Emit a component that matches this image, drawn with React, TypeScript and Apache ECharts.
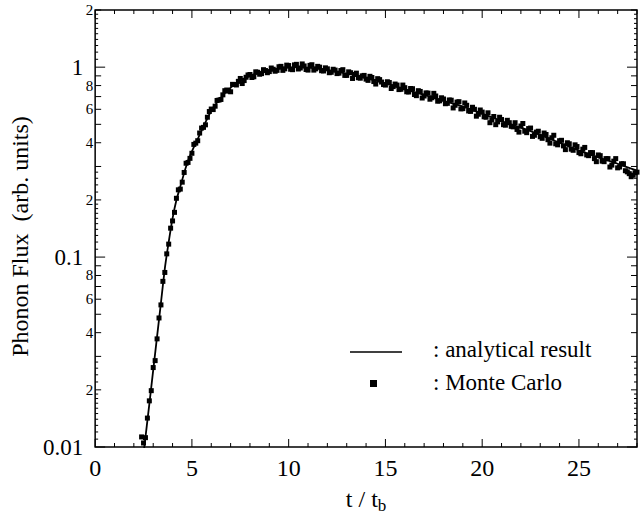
import React, { useEffect, useRef } from 'react';
import * as echarts from 'echarts';

// Analytical result (t / t_b, flux)
const analyticT = [2.53, 2.8, 3.0, 3.2, 3.4, 3.6, 3.8, 4.0, 4.2, 4.4, 4.7, 5.0, 5.35, 5.65, 6.0, 6.5, 7.0, 7.5, 8.0, 8.5, 9.0, 9.5, 10.0, 10.5, 11.0, 11.5, 12.0, 12.5, 13.0, 13.5, 14.0, 14.5, 15.0, 16.0, 17.0, 18.0, 19.0, 20.0, 21.0, 22.0, 23.0, 24.0, 25.0, 26.0, 27.0, 28.0];
const analyticFlux = [0.0098, 0.0168, 0.0254, 0.0382, 0.0575, 0.087, 0.12, 0.16, 0.2, 0.235, 0.3, 0.36, 0.43, 0.5, 0.59, 0.69, 0.78, 0.85, 0.9, 0.935, 0.96, 0.98, 0.995, 1.0, 0.995, 0.985, 0.965, 0.945, 0.925, 0.905, 0.875, 0.85, 0.82, 0.765, 0.715, 0.665, 0.62, 0.57, 0.52, 0.48, 0.44, 0.4, 0.365, 0.335, 0.31, 0.285];

// Monte Carlo points (first run of readings)
const mcT = [2.4, 2.5, 2.6, 2.7, 2.8, 2.9, 3.0, 3.1, 3.2, 3.3, 3.4, 3.5, 3.6, 3.7, 3.8, 3.9, 4.0, 4.2, 4.4, 4.6, 4.8, 5.0, 5.2, 5.4, 5.6, 5.8, 6.0, 6.2, 6.4, 6.6, 6.8, 7.0, 7.2, 7.4, 7.6, 7.8, 8.0, 8.2, 8.4, 8.6, 8.8, 9.0, 9.2, 9.4, 9.6, 9.8, 10.0, 10.2, 10.4, 10.6, 10.8, 11.0, 11.2, 11.4, 11.6, 11.8, 12.0, 12.2, 12.4, 12.6, 12.8, 13.0, 13.2, 13.4, 13.6, 13.8, 14.0, 14.2, 14.4, 14.6, 14.8, 15.0, 15.2, 15.4, 15.6, 15.8, 16.0, 16.2, 16.4, 16.6, 16.8, 17.0, 17.2, 17.4, 17.6, 17.8, 18.0, 18.2, 18.4, 18.6, 18.8, 19.0, 19.2, 19.4, 19.6, 19.8, 20.0, 20.2, 20.4, 20.6, 20.8, 21.0, 21.2, 21.4, 21.6, 21.8, 22.0, 22.2, 22.4, 22.6, 22.8, 23.0, 23.2, 23.4, 23.6, 23.8, 24.0, 24.2, 24.4, 24.6, 24.8, 25.0, 25.2, 25.4, 25.6, 25.8, 26.0, 26.2, 26.4, 26.6, 26.8, 27.0, 27.2, 27.4, 27.6, 27.8, 28.0];
const mcFlux = [0.0113, 0.0105, 0.0112, 0.0142, 0.0175, 0.0198, 0.0262, 0.0285, 0.0371, 0.0478, 0.056, 0.0745, 0.083, 0.104, 0.117, 0.142, 0.155, 0.204, 0.228, 0.279, 0.315, 0.352, 0.398, 0.45, 0.482, 0.545, 0.602, 0.623, 0.671, 0.715, 0.758, 0.742, 0.81, 0.842, 0.82, 0.885, 0.915, 0.89, 0.94, 0.925, 0.96, 0.948, 0.975, 0.962, 1.01, 0.98, 1.02, 0.97, 1.035, 0.99, 1.015, 0.965, 1.03, 0.98, 1.0, 0.955, 0.98, 0.94, 0.965, 0.93, 0.97, 0.905, 0.935, 0.915, 0.88, 0.9, 0.865, 0.895, 0.84, 0.87, 0.835, 0.805, 0.83, 0.79, 0.805, 0.765, 0.78, 0.74, 0.77, 0.708, 0.745, 0.705, 0.73, 0.69, 0.705, 0.665, 0.68, 0.645, 0.67, 0.63, 0.658, 0.605, 0.63, 0.585, 0.6, 0.565, 0.58, 0.545, 0.51, 0.55, 0.515, 0.53, 0.495, 0.51, 0.485, 0.47, 0.49, 0.46, 0.475, 0.432, 0.455, 0.43, 0.45, 0.415, 0.425, 0.395, 0.41, 0.385, 0.4, 0.37, 0.39, 0.355, 0.37, 0.345, 0.355, 0.33, 0.345, 0.32, 0.33, 0.298, 0.32, 0.295, 0.31, 0.285, 0.275, 0.27, 0.28];

// Monte Carlo points (second run of readings, in between)
const mcT2 = [4.1, 4.3, 4.5, 4.7, 4.9, 5.1, 5.3, 5.5, 5.7, 5.9, 6.1, 6.3, 6.5, 6.7, 6.9, 7.1, 7.3, 7.5, 7.7, 7.9, 8.1, 8.3, 8.5, 8.7, 8.9, 9.1, 9.3, 9.5, 9.7, 9.9, 10.1, 10.3, 10.5, 10.7, 10.9, 11.1, 11.3, 11.5, 11.7, 11.9, 12.1, 12.3, 12.5, 12.7, 12.9, 13.1, 13.3, 13.5, 13.7, 13.9, 14.1, 14.3, 14.5, 14.7, 14.9, 15.1, 15.3, 15.5, 15.7, 15.9, 16.1, 16.3, 16.5, 16.7, 16.9, 17.1, 17.3, 17.5, 17.7, 17.9, 18.1, 18.3, 18.5, 18.7, 18.9, 19.1, 19.3, 19.5, 19.7, 19.9, 20.1, 20.3, 20.5, 20.7, 20.9, 21.1, 21.3, 21.5, 21.7, 21.9, 22.1, 22.3, 22.5, 22.7, 22.9, 23.1, 23.3, 23.5, 23.7, 23.9, 24.1, 24.3, 24.5, 24.7, 24.9, 25.1, 25.3, 25.5, 25.7, 25.9, 26.1, 26.3, 26.5, 26.7, 26.9, 27.1, 27.3, 27.5, 27.7, 27.9];
const mcFlux2 = [0.172, 0.226, 0.248, 0.312, 0.331, 0.392, 0.41, 0.478, 0.497, 0.584, 0.598, 0.668, 0.676, 0.752, 0.748, 0.812, 0.806, 0.872, 0.85, 0.91, 0.882, 0.945, 0.918, 0.97, 0.935, 0.99, 0.952, 1.005, 0.962, 1.025, 0.975, 1.028, 0.978, 1.04, 0.972, 1.022, 0.965, 1.01, 0.958, 0.992, 0.935, 0.975, 0.925, 0.96, 0.905, 0.945, 0.872, 0.93, 0.875, 0.905, 0.852, 0.882, 0.815, 0.86, 0.81, 0.838, 0.772, 0.815, 0.762, 0.805, 0.742, 0.772, 0.718, 0.752, 0.688, 0.732, 0.678, 0.728, 0.662, 0.69, 0.642, 0.672, 0.61, 0.655, 0.603, 0.648, 0.588, 0.615, 0.552, 0.595, 0.548, 0.575, 0.528, 0.498, 0.545, 0.498, 0.525, 0.488, 0.51, 0.455, 0.505, 0.452, 0.478, 0.438, 0.46, 0.422, 0.442, 0.398, 0.438, 0.39, 0.412, 0.368, 0.395, 0.365, 0.382, 0.35, 0.378, 0.342, 0.355, 0.318, 0.342, 0.318, 0.33, 0.305, 0.33, 0.298, 0.31, 0.281, 0.265, 0.278];

// Axis settings / tick labels
const X_MIN = 0;
const X_MAX = 28;
const Y_MIN = 0.01;
const Y_MAX = 2;
const yDecades = [0.01, 0.1, 1];
const yMajorLabels = ['0.01', '0.1', '1'];
const yMinorMultipliers = [2, 3, 4, 5, 6, 7, 8, 9];
const yMinorLabeled = [2, 4, 6, 8];
const legendLabels = [': analytical result', ': Monte Carlo'];

const FONT = 'Liberation Serif';

type YTick = { v: number; len: number; label: string };

function buildYTicks(): YTick[] {
  const ticks: YTick[] = [];
  yDecades.forEach((d) => {
    ticks.push({ v: d, len: 10, label: '' });
    yMinorMultipliers.forEach((m) => {
      const v = +(m * d).toPrecision(6);
      if (v > Y_MAX + 1e-9) return;
      ticks.push({ v, len: 6, label: yMinorLabeled.indexOf(m) >= 0 ? String(m) : '' });
    });
    for (let k = 1; k <= 9; k++) {
      const v = +(d * (1 + k / 10)).toPrecision(6);
      if (v < Y_MAX) ticks.push({ v, len: 3, label: '' });
    }
    for (let k = 1; k <= 4; k++) {
      const v = +(d * (2 + k / 5)).toPrecision(6);
      if (v < Y_MAX) ticks.push({ v, len: 3, label: '' });
    }
  });
  return ticks;
}

type XTick = { v: number; len: number };
function buildXTicks(): XTick[] {
  const ticks: XTick[] = [];
  for (let t = X_MIN; t <= X_MAX; t++) {
    ticks.push({ v: t, len: t % 5 === 0 ? 8 : 4 });
  }
  return ticks;
}

export default function App() {
  const ref = useRef<HTMLDivElement>(null);

  useEffect(() => {
    if (!ref.current) return;
    const chart = echarts.init(ref.current, undefined, { renderer: 'svg' });
    const yTicks = buildYTicks();
    const xTicks = buildXTicks();
    const mcData = mcT.map((t, i) => [t, mcFlux[i]]).concat(mcT2.map((t, i) => [t, mcFlux2[i]]));

    const option: any = {
      animation: false,
      backgroundColor: '#fff',
      textStyle: { fontFamily: FONT, color: '#000' },
      grid: {
        left: 91,
        right: 2,
        top: 10,
        bottom: 80,
        show: true,
        borderColor: '#000',
        borderWidth: 1.5,
        backgroundColor: 'transparent',
      },
      xAxis: {
        type: 'value',
        min: X_MIN,
        max: X_MAX,
        interval: 5,
        splitLine: { show: false },
        axisLine: { show: false },
        axisTick: { show: false },
        axisLabel: {
          margin: 9,
          fontSize: 24,
          fontFamily: FONT,
          color: '#000',
          formatter: (v: number) => (Math.abs(v % 5) < 1e-9 ? String(v) : ''),
        },
        name: 't / t{b|b}',
        nameLocation: 'middle',
        nameGap: 36,
        nameTextStyle: {
          fontSize: 24,
          fontFamily: FONT,
          color: '#000',
          rich: { b: { fontSize: 17, fontFamily: FONT, color: '#000', padding: [14, 0, 0, 0] } },
        },
      },
      yAxis: {
        type: 'log',
        logBase: 10,
        min: Y_MIN,
        max: Y_MAX,
        splitLine: { show: false },
        axisLine: { show: false },
        axisTick: { show: false },
        axisLabel: {
          margin: 12,
          fontSize: 23,
          fontFamily: FONT,
          color: '#000',
          formatter: (v: number) => {
            for (let i = 0; i < yDecades.length; i++) {
              if (Math.abs(v - yDecades[i]) / yDecades[i] < 1e-6) return yMajorLabels[i];
            }
            return '';
          },
        },
        name: 'Phonon Flux  (arb. units)',
        nameLocation: 'middle',
        nameGap: 60,
        nameTextStyle: { fontSize: 24, fontFamily: FONT, color: '#000', padding: [0, 16, 0, 0] },
      },
      graphic: [
        { type: 'line', shape: { x1: 350, y1: 352, x2: 402, y2: 352 }, style: { stroke: '#000', lineWidth: 1.5 } },
        { type: 'text', x: 433, y: 349, style: { text: legendLabels[0], fontSize: 23, fontFamily: FONT, fill: '#000', verticalAlign: 'middle' } },
        { type: 'rect', shape: { x: 370, y: 380, width: 7, height: 7 }, style: { fill: '#000' } },
        { type: 'text', x: 433, y: 382, style: { text: legendLabels[1], fontSize: 23, fontFamily: FONT, fill: '#000', verticalAlign: 'middle' } },
      ],
      series: [
        {
          name: 'analytical result',
          type: 'line',
          data: analyticT.map((t, i) => [t, analyticFlux[i]]),
          showSymbol: false,
          smooth: 0.2,
          lineStyle: { color: '#000', width: 1.8 },
          clip: true,
          z: 3,
        },
        {
          name: 'Monte Carlo',
          type: 'scatter',
          data: mcData,
          symbol: 'rect',
          symbolSize: 5,
          itemStyle: { color: '#000', opacity: 1 },
          z: 4,
        },
        {
          type: 'custom',
          name: 'yTicks',
          data: yTicks.map((t) => [X_MIN, t.v]),
          clip: false,
          silent: true,
          z: 5,
          renderItem: (params: any, api: any) => {
            const t = yTicks[params.dataIndex];
            const l = api.coord([X_MIN, t.v]);
            const r = api.coord([X_MAX, t.v]);
            const children: any[] = [
              { type: 'line', shape: { x1: l[0], y1: l[1], x2: l[0] + t.len, y2: l[1] }, style: { stroke: '#000', lineWidth: 1 } },
              { type: 'line', shape: { x1: r[0] - t.len, y1: r[1], x2: r[0], y2: r[1] }, style: { stroke: '#000', lineWidth: 1 } },
            ];
            if (t.label) {
              children.push({
                type: 'text',
                x: l[0] - 2,
                y: l[1],
                style: { text: t.label, fontSize: 15, fontFamily: FONT, fill: '#000', align: 'right', verticalAlign: 'middle' },
              });
            }
            return { type: 'group', children };
          },
        },
        {
          type: 'custom',
          name: 'xTicks',
          data: xTicks.map((t) => [t.v, Y_MIN]),
          clip: false,
          silent: true,
          z: 5,
          renderItem: (params: any, api: any) => {
            const t = xTicks[params.dataIndex];
            const b = api.coord([t.v, Y_MIN]);
            const tp = api.coord([t.v, Y_MAX]);
            return {
              type: 'group',
              children: [
                { type: 'line', shape: { x1: b[0], y1: b[1], x2: b[0], y2: b[1] - t.len }, style: { stroke: '#000', lineWidth: 1 } },
                { type: 'line', shape: { x1: tp[0], y1: tp[1], x2: tp[0], y2: tp[1] + t.len }, style: { stroke: '#000', lineWidth: 1 } },
              ],
            };
          },
        },
      ],
    };

    chart.setOption(option);
    return () => chart.dispose();
  }, []);

  return <div ref={ref} style={{ width: 640, height: 527, position: 'absolute', left: 0, top: 0 }} />;
}
